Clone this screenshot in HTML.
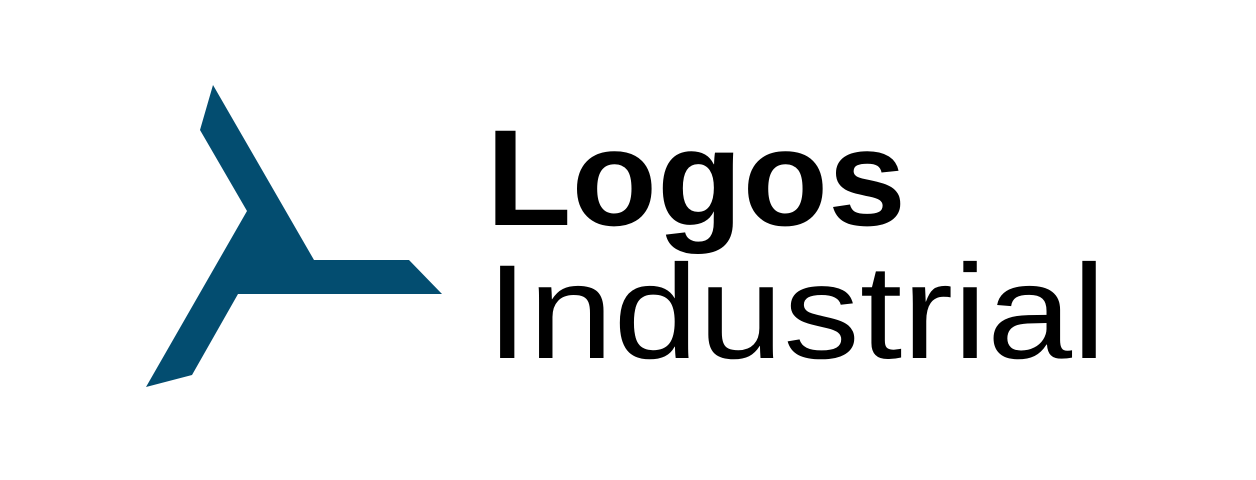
<!DOCTYPE html>
<html><head><meta charset="utf-8"><style>html,body{margin:0;padding:0;background:#fff;width:1256px;height:480px;overflow:hidden}</style></head>
<body>
<svg width="1256" height="480" viewBox="0 0 1256 480" xmlns="http://www.w3.org/2000/svg">
<rect width="1256" height="480" fill="#fff"/>
<polygon fill="#034d70" points="213,85 200,130 247,211 146,387 192,375 238,294 442,294 409,260 314,260"/>
<text x="486" y="225" font-family="Liberation Sans, sans-serif" font-weight="bold" font-size="137" textLength="420" lengthAdjust="spacingAndGlyphs" fill="#000">Logos</text>
<text x="486" y="358" font-family="Liberation Sans, sans-serif" font-size="134" textLength="620" lengthAdjust="spacingAndGlyphs" fill="#000">Industrial</text>
</svg>
</body></html>
